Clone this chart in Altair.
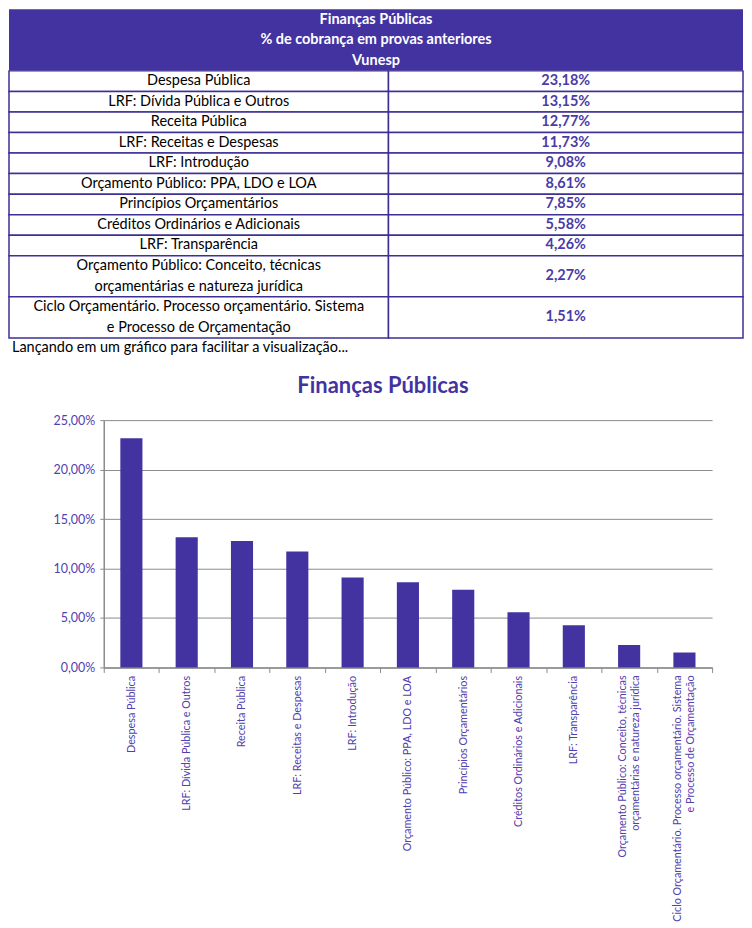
import altair as alt
import pandas as pd

# ---------------- data ----------------
header_lines = ["Finanças Públicas", "% de cobrança em provas anteriores", "Vunesp"]
categories = [
    "Despesa Pública",
    "LRF: Dívida Pública e Outros",
    "Receita Pública",
    "LRF: Receitas e Despesas",
    "LRF: Introdução",
    "Orçamento Público: PPA, LDO e LOA",
    "Princípios Orçamentários",
    "Créditos Ordinários e Adicionais",
    "LRF: Transparência",
    "Orçamento Público: Conceito, técnicas\norçamentárias e natureza jurídica",
    "Ciclo Orçamentário. Processo orçamentário. Sistema\ne Processo de Orçamentação",
]
values = [23.18, 13.15, 12.77, 11.73, 9.08, 8.61, 7.85, 5.58, 4.26, 2.27, 1.51]
note_text = "Lançando em um gráfico para facilitar a visualização..."
chart_title = "Finanças Públicas"
y_ticks = [0, 5, 10, 15, 20, 25]

# ---------------- styles ----------------
PURPLE = "#4333a1"
BORDER = "#3d2f94"
VALUE_C = "#4b3ba6"
LABEL_C = "#5040b0"
GRAY = "#8c8c8c"
TFONT = "Lato"
CFONT = "Lato"

LINE_PX = 20.6
SPLIT = 0.517          # column divider as fraction of table width
AXIS_EXT = 95          # room for the bar chart's y labels
PLOT_W = 610
PLOT_H = 248
TABLE_RANGE = [-AXIS_EXT, 736 - AXIS_EXT]
X_LABEL_SIZE = 10.8
X_LABEL_LH = 13

# ---------------- table data ----------------
n_head = len(header_lines)
rows = []
top = n_head
for c, v in zip(categories, values):
    nl = c.count("\n") + 1
    rows.append({
        "label": c,
        "val": f"{v:.2f}".replace(".", ",") + "%",
        "y": top, "y2": top + nl, "ym": top + nl / 2, "yt": top + 0.5,
        "x0": 0.0, "xs": SPLIT, "x1": 1.0,
        "xl": SPLIT / 2, "xr": (SPLIT + 1) / 2,
    })
    top += nl
tdf = pd.DataFrame(rows)
total_units = top + 1
hdf = pd.DataFrame({"text": header_lines,
                    "y": [i + 0.5 for i in range(n_head)],
                    "x": [0.5] * n_head})
hrect = pd.DataFrame({"x": [0.0], "x2": [1.0], "y": [0], "y2": [n_head]})
ndf = pd.DataFrame({"text": [note_text], "x": [0.0], "y": [top + 0.5]})

xsc = alt.Scale(domain=[0, 1], range=TABLE_RANGE, nice=False, zero=False)
ysc = alt.Scale(domain=[0, total_units], reverse=True, nice=False, zero=False)


def X(f):
    return alt.X(f, type="quantitative", scale=xsc, axis=None)


def Y(f):
    return alt.Y(f, type="quantitative", scale=ysc, axis=None)


head_bg = alt.Chart(hrect).mark_rect(color=PURPLE).encode(
    x=X("x"), x2="x2", y=Y("y"), y2="y2")
head_txt = alt.Chart(hdf).mark_text(
    color="white", font=TFONT, fontSize=14.5, fontWeight="bold", baseline="middle"
).encode(x=X("x"), y=Y("y"), text="text:N")
left_cells = alt.Chart(tdf).mark_rect(fill="white", stroke=BORDER, strokeWidth=1.5).encode(
    x=X("x0"), x2="xs", y=Y("y"), y2="y2")
right_cells = alt.Chart(tdf).mark_rect(fill="white", stroke=BORDER, strokeWidth=1.5).encode(
    x=X("xs"), x2="x1", y=Y("y"), y2="y2")
left_txt = alt.Chart(tdf).mark_text(
    color="black", font=TFONT, fontSize=14.5, lineBreak="\n", lineHeight=LINE_PX,
    baseline="middle"
).encode(x=X("xl"), y=Y("yt"), text="label:N")
right_txt = alt.Chart(tdf).mark_text(
    color=VALUE_C, font=TFONT, fontSize=14.5, fontWeight="bold", baseline="middle"
).encode(x=X("xr"), y=Y("ym"), text="val:N")
note = alt.Chart(ndf).mark_text(
    color="black", font=TFONT, fontSize=14.5, align="left", baseline="middle", dx=3
).encode(x=X("x"), y=Y("y"), text="text:N")

table = alt.layer(head_bg, left_cells, right_cells, head_txt, left_txt, right_txt, note).properties(
    width=PLOT_W, height=total_units * LINE_PX)

# ---------------- bar chart ----------------
bdf = pd.DataFrame({"cat": categories, "val": values})
xenc = alt.X("cat:N", sort=categories,
             scale=alt.Scale(paddingInner=0, paddingOuter=0),
             axis=alt.Axis(title=None, labelAngle=-90, labelAlign="right", labelBaseline="middle",
                           labelExpr="indexof(datum.label, '\\n') >= 0 ? '' : datum.label",
                           tickBand="extent",
                           tickSize=5, tickColor=GRAY, domainColor=GRAY, domainWidth=1.5,
                           labelColor=LABEL_C, labelFont=CFONT, labelFontSize=X_LABEL_SIZE,
                           labelPadding=3, labelLimit=0, grid=False))
yenc = alt.Y("val:Q", scale=alt.Scale(domain=[0, 25], nice=False),
             axis=alt.Axis(title=None, values=y_ticks,
                           labelExpr="replace(format(datum.value, '.2f'), '.', ',') + '%'",
                           grid=True, gridColor=GRAY, gridWidth=1, domainColor=GRAY,
                           domainWidth=1.5, tickColor=GRAY, tickSize=4, labelPadding=5,
                           labelColor=LABEL_C, labelFont=CFONT, labelFontSize=12.5,
                           minExtent=AXIS_EXT))

bars = alt.Chart(bdf).mark_bar(color=PURPLE, width=alt.RelativeBandSize(0.4)).encode(
    x=xenc, y=yenc)

# two-line category labels, drawn as a centred block under their band
multi = alt.Chart(bdf).transform_filter(
    "indexof(datum.cat, '\\n') >= 0"
).mark_text(
    angle=270, align="right", baseline="middle", lineBreak="\n", lineHeight=X_LABEL_LH,
    font=CFONT, fontSize=X_LABEL_SIZE, color=LABEL_C, dx=-8, dy=-X_LABEL_LH / 2
).encode(
    x=alt.X("cat:N", sort=categories), y=alt.datum(0), text="cat:N")

barchart = alt.layer(bars, multi).properties(
    width=PLOT_W, height=PLOT_H,
    title=alt.TitleParams(chart_title, font=CFONT, fontSize=22, fontWeight="bold",
                          color=PURPLE, anchor="middle", frame="group", dx=-25, offset=16),
)

chart = alt.vconcat(table, barchart, spacing=16).properties(
    padding={"left": 0, "top": 0, "right": 0, "bottom": 0}
).configure_view(stroke=None)

chart.save("out.html", embed_options={"renderer": "svg", "actions": False})
